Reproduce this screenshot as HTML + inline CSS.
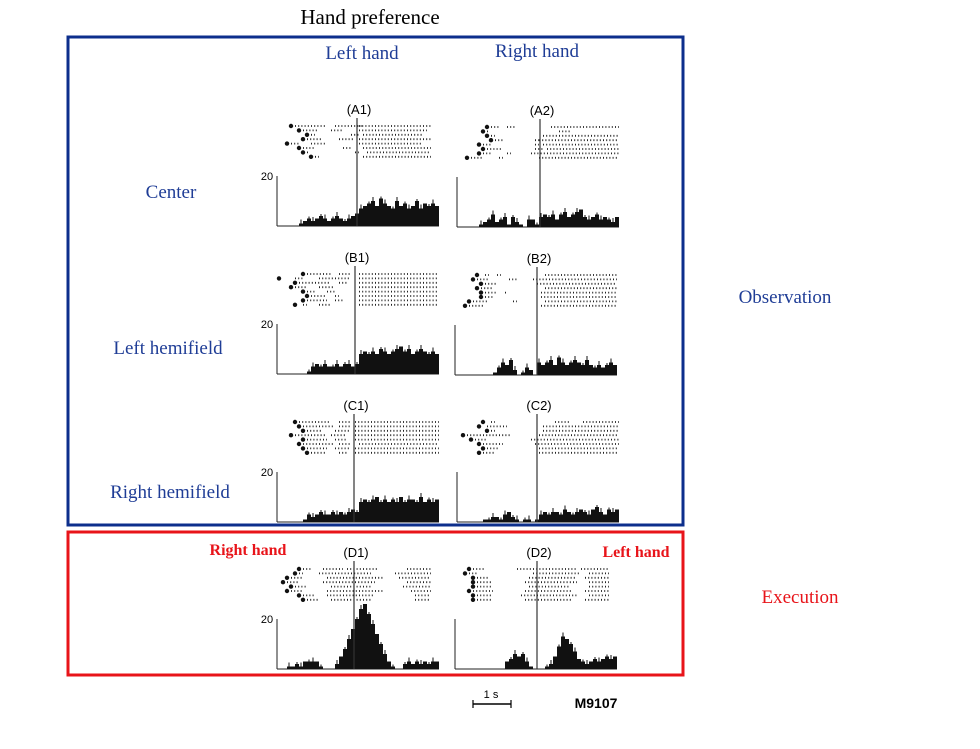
<!DOCTYPE html>
<html><head><meta charset="utf-8"><style>
body{margin:0;background:#fff;width:980px;height:749px;overflow:hidden}
svg{display:block}
.serif{font-family:"Liberation Serif",serif}
.sans{font-family:"Liberation Sans",sans-serif}
</style></head><body>
<svg id="fig" width="980" height="749" viewBox="0 0 980 749">
<text class="serif" x="370" y="24" font-size="21" text-anchor="middle" fill="#000">Hand preference</text>
<rect x="68" y="37" width="615" height="488" fill="none" stroke="#0d2f8c" stroke-width="3"/>
<rect x="68" y="532" width="615" height="143" fill="none" stroke="#e8141a" stroke-width="3"/>
<text class="serif" x="362" y="59" font-size="19" text-anchor="middle" fill="#1f3d96">Left hand</text>
<text class="serif" x="537" y="57" font-size="19" text-anchor="middle" fill="#1f3d96">Right hand</text>
<text class="serif" x="171" y="198" font-size="19" text-anchor="middle" fill="#1f3d96">Center</text>
<text class="serif" x="168" y="354" font-size="19" text-anchor="middle" fill="#1f3d96">Left hemifield</text>
<text class="serif" x="170" y="498" font-size="19" text-anchor="middle" fill="#1f3d96">Right hemifield</text>
<text class="serif" x="785" y="303" font-size="19" text-anchor="middle" fill="#1f3d96">Observation</text>
<text class="serif" x="800" y="603" font-size="19" text-anchor="middle" fill="#e8141a">Execution</text>
<text class="serif" x="248" y="555" font-size="16" font-weight="bold" text-anchor="middle" fill="#e8141a">Right hand</text>
<text class="serif" x="636" y="557" font-size="16" font-weight="bold" text-anchor="middle" fill="#e8141a">Left hand</text>
<g>
<line x1="473" y1="704" x2="511" y2="704" stroke="#000" stroke-width="1.5"/>
<line x1="473" y1="700" x2="473" y2="708" stroke="#000" stroke-width="1.2"/>
<line x1="511" y1="700" x2="511" y2="708" stroke="#000" stroke-width="1.2"/>
<text class="sans" x="491" y="698" font-size="11" text-anchor="middle">1 s</text>
</g>
<text class="sans" x="596" y="708" font-size="14" font-weight="bold" text-anchor="middle">M9107</text>
<g id="panels"></g>
</svg>
<script>
// histogram bin values (spikes/s), 40 bins per panel
const histA1 = [0,0,0,0,0,1,2,3,2,3,4,3,2,3,4,3,2,3,4,5,7,8,9,10,8,11,9,8,7,10,8,9,7,8,10,7,9,8,9,8];
const histA2 = [0,0,0,0,0,1,2,3,5,2,3,4,1,4,2,1,0,3,3,1,4,5,4,5,3,5,6,4,5,6,7,4,3,4,5,3,4,3,2,4];
const histB1 = [0,0,0,0,0,0,0,1,3,4,3,4,3,3,4,3,4,4,3,4,8,9,8,9,8,10,9,8,9,10,11,9,10,8,9,10,9,8,9,8];
const histB2 = [0,0,0,0,0,0,0,0,0,1,3,5,4,6,2,0,1,3,2,0,5,4,5,6,4,7,5,4,5,6,5,4,6,4,3,4,3,4,5,4];
const histC1 = [0,0,0,0,0,0,1,3,2,3,4,3,3,4,3,4,3,4,5,4,8,9,8,9,10,8,9,8,9,8,10,8,9,9,8,10,8,9,8,9];
const histC2 = [0,0,0,0,0,0,1,1,2,2,1,3,4,2,1,0,1,1,0,1,3,4,3,4,4,3,5,4,3,4,5,4,3,5,6,4,3,5,4,5];
const histD1 = [0,0,1,1,2,1,3,3,3,3,1,0,0,0,2,5,8,12,16,20,24,26,22,18,14,10,6,3,1,0,0,2,3,2,3,2,3,2,3,3];
const histD2 = [0,0,0,0,0,0,0,0,0,0,0,0,3,4,6,5,6,3,1,0,0,0,1,2,5,9,13,12,10,7,4,3,2,3,4,3,4,5,4,5];
// raster row marker times (bin units) and spike-run segments [start,end] in bin units
const rasterA1 = [[3,[[4,12],[14,21],[20,38]]],[5,[[6,10],[13,16],[20,37]]],[7,[[8,9],[18,20],[21,36]]],[6,[[7,11],[15,19],[20,38]]],[2,[[3,5],[8,12],[20,36]]],[5,[[6,9],[16,18],[21,38]]],[6,[[7,7],[19,20],[22,38]]],[8,[[9,10],[21,38]]]];
const rasterA2 = [[7,[[8,10],[12,14],[23,40]]],[6,[[7,7],[25,28]]],[7,[[8,9],[21,40]]],[8,[[9,11],[19,20],[20,40]]],[5,[[6,8],[19,20],[21,40]]],[6,[[7,11],[19,21],[22,40]]],[5,[[6,8],[12,13],[18,40]]],[2,[[3,6],[10,11],[20,40]]]];
const rasterB1 = [[6,[[7,13],[15,18],[20,40]]],[0,[[4,6],[10,18],[20,40]]],[4,[[5,13],[15,17],[20,40]]],[3,[[4,7],[10,14],[20,40]]],[6,[[7,9],[12,14],[20,40]]],[7,[[8,12],[14,15],[20,40]]],[6,[[7,12],[14,16],[20,40]]],[4,[[6,7],[10,13],[20,40]]]];
const rasterB2 = [[5,[[7,8],[10,11],[22,40]]],[4,[[5,8],[13,15],[19,40]]],[6,[[7,10],[20,40]]],[5,[[6,9],[22,40]]],[6,[[7,10],[12,12],[21,40]]],[6,[[7,9],[21,40]]],[3,[[4,8],[14,15],[22,40]]],[2,[[3,7],[21,40]]]];
const rasterC1 = [[4,[[5,13],[15,18],[19,40]]],[5,[[6,14],[15,18],[19,40]]],[6,[[7,11],[14,18],[19,40]]],[3,[[4,12],[13,17],[19,40]]],[6,[[7,12],[14,17],[19,40]]],[5,[[6,14],[15,18],[20,40]]],[6,[[7,12],[14,18],[19,40]]],[7,[[8,12],[15,17],[19,40]]]];
const rasterC2 = [[6,[[8,9],[24,28],[31,40]]],[5,[[7,12],[21,40]]],[7,[[8,9],[21,40]]],[1,[[2,13],[20,40]]],[3,[[4,7],[18,40]]],[5,[[6,11],[19,40]]],[6,[[7,10],[20,40]]],[5,[[6,9],[20,40]]]];
const rasterD1 = [[5,[[6,8],[11,16],[17,25],[32,38]]],[4,[[5,6],[10,23],[29,38]]],[2,[[3,6],[12,26],[30,38]]],[1,[[2,5],[11,24],[32,38]]],[3,[[4,7],[13,23],[31,38]]],[2,[[3,6],[12,26],[33,38]]],[5,[[6,9],[12,24],[34,38]]],[6,[[7,10],[13,23],[34,38]]]];
const rasterD2 = [[3,[[4,7],[15,30],[31,38]]],[2,[[3,5],[19,31],[33,38]]],[4,[[5,8],[18,30],[32,38]]],[4,[[5,9],[17,30],[33,38]]],[4,[[5,9],[18,28],[33,38]]],[3,[[4,9],[17,29],[32,38]]],[4,[[5,9],[16,30],[33,38]]],[4,[[5,9],[17,29],[32,38]]]];
const yTickLabel = "20";
const yTickValue = 20;

const NS="http://www.w3.org/2000/svg";
const panels=[
 {name:"A1",ax:277,base:226,ev:357,hist:histA1,raster:rasterA1},
 {name:"A2",ax:457,base:227,ev:540,hist:histA2,raster:rasterA2},
 {name:"B1",ax:277,base:374,ev:355,hist:histB1,raster:rasterB1},
 {name:"B2",ax:455,base:375,ev:537,hist:histB2,raster:rasterB2},
 {name:"C1",ax:277,base:522,ev:354,hist:histC1,raster:rasterC1},
 {name:"C2",ax:457,base:522,ev:537,hist:histC2,raster:rasterC2},
 {name:"D1",ax:277,base:669,ev:354,hist:histD1,raster:rasterD1},
 {name:"D2",ax:455,base:669,ev:537,hist:histD2,raster:rasterD2}
];
const root=document.getElementById('panels');
function mk(tag,attrs,parent){const e=document.createElementNS(NS,tag);for(const k in attrs)e.setAttribute(k,attrs[k]);parent.appendChild(e);return e;}
panels.forEach(p=>{
 const g=mk('g',{},root);
 
 
 const bw=4;
 const xS=i=>p.ax+2+i*bw;
 const yS=v=>p.base-v*2.5;
 const lbl=mk('text',{x:p.ev+2,y:p.base-112,'font-size':13,'text-anchor':'middle','font-family':'Liberation Sans, sans-serif'},g);
 lbl.textContent='('+p.name+')';
 
 
 if(p.ax<300){
  const t=mk('text',{x:p.ax-10,y:yS(yTickValue)+4,'font-size':11,'text-anchor':'middle','font-family':'Liberation Sans, sans-serif'},g);
  t.textContent=yTickLabel;
  
  
 }
 const ya=mk('line',{x1:p.ax,y1:yS(yTickValue),x2:p.ax,y2:p.base,stroke:'#222','stroke-width':1},g);
 
 
 const xa=mk('line',{x1:p.ax,y1:p.base,x2:xS(p.hist.length),y2:p.base,stroke:'#222','stroke-width':1},g);
 
 
 p.hist.forEach((v,i)=>{
  if(v<=0)return;
  const r=mk('rect',{x:xS(i),y:yS(v),width:bw,height:p.base-yS(v),fill:'#111'},g);
  
  
  // thin spike on top for ragged look
  const s=mk('rect',{x:xS(i)+1.5,y:yS(v)-(i%3)*2,width:1,height:(i%3)*2,fill:'#111'},g);
  
  
 });
 p.raster.forEach((row,k)=>{
  const y=p.base-100+k*4.4;
  const c=mk('circle',{cx:xS(row[0]),cy:y,r:2.2,fill:'#111'},g);
  
  
  row[1].forEach(s=>{
   const l=mk('line',{x1:xS(s[0]),y1:y,x2:Math.max(xS(s[1]),xS(s[0])+2),y2:y,stroke:'#222','stroke-width':1.8,'stroke-dasharray':'1 2.2'},g);
   
   
  });
 });
 const ev=mk('line',{x1:p.ev,y1:p.base-108,x2:p.ev,y2:p.base,stroke:'#333','stroke-width':1.2},g);
 
 
});
</script>
</body></html>
